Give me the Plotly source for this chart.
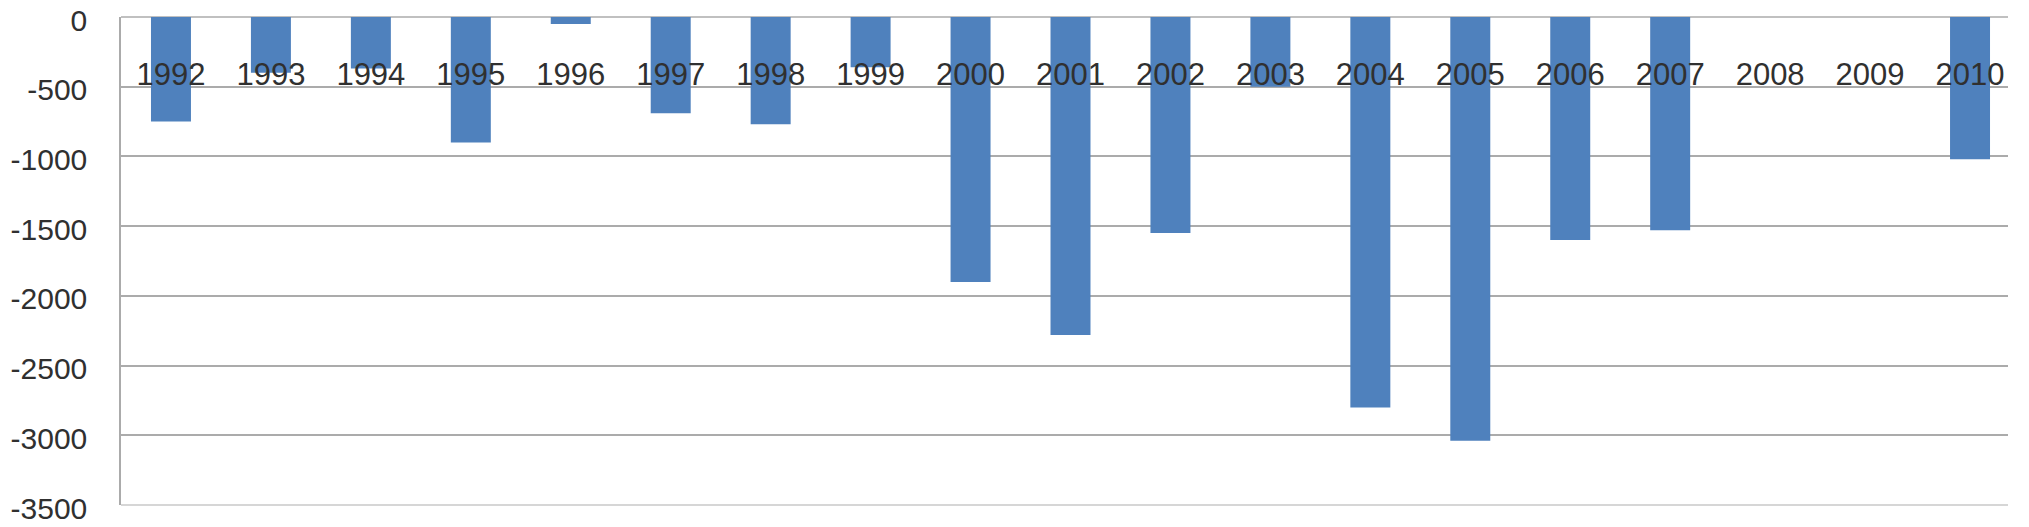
import plotly.graph_objects as go

years = ["1992", "1993", "1994", "1995", "1996", "1997", "1998", "1999", "2000",
         "2001", "2002", "2003", "2004", "2005", "2006", "2007", "2008", "2009", "2010"]
values = [-750, -400, -370, -900, -50, -690, -770, -360, -1900,
          -2280, -1550, -500, -2800, -3040, -1600, -1530, None, None, -1020]
y_ticks = [0, -500, -1000, -1500, -2000, -2500, -3000, -3500]

# page body adds an 8px offset; figure coordinates compensate for it
OFF = 8
W, H = 2029, 527
L, T = 121 - OFF, 17 - OFF
R = W - (2020 - OFF)
B = H - (505 - OFF)
plot_h = H - T - B
plot_w = W - L - R

fig = go.Figure()
fig.add_trace(go.Bar(
    x=years, y=values,
    marker=dict(color="#4F81BD", line=dict(width=0)),
    showlegend=False,
))

label_pos = (505 - 53) / plot_h

fig.update_layout(
    width=W, height=H,
    margin=dict(l=L, r=R, t=T, b=B, pad=0, autoexpand=False),
    paper_bgcolor="white", plot_bgcolor="white",
    bargap=0.6,
    font=dict(family="Liberation Sans", size=31, color="#303030"),
    xaxis=dict(
        type="category", range=[-0.5, 18.5],
        anchor="free", position=label_pos,
        showgrid=False, showline=False, zeroline=False,
        ticks="", tickfont=dict(size=31, color="#303030"),
        automargin=False, fixedrange=True,
    ),
    yaxis=dict(
        range=[-3500, 0],
        tickvals=y_ticks, ticktext=[str(v) for v in y_ticks],
        showgrid=True, gridcolor="#ABABAB", gridwidth=1.5,
        zeroline=False,
        showline=True, linecolor="#ABABAB", linewidth=1.5,
        ticks="", ticklabelstandoff=26, ticklabeloverflow="allow",
        ticklabelshift=3,
        tickfont=dict(size=30, color="#303030"),
        automargin=False, fixedrange=True,
    ),
    shapes=[
        dict(type="line", xref="paper", yref="paper", x0=0, x1=1, y0=1, y1=1,
             line=dict(color="#ABABAB", width=1.5), layer="below"),
        dict(type="line", xref="paper", yref="paper", x0=0, x1=1, y0=0, y1=0,
             line=dict(color="#C8C8C8", width=1.5), layer="below"),
        dict(type="rect", xref="paper", yref="paper",
             x0=(2008 - OFF - L) / plot_w, x1=1.2, y0=-0.2, y1=1.2,
             fillcolor="white", line=dict(width=0), layer="above"),
    ],
)

fig.write_html("out.html")
